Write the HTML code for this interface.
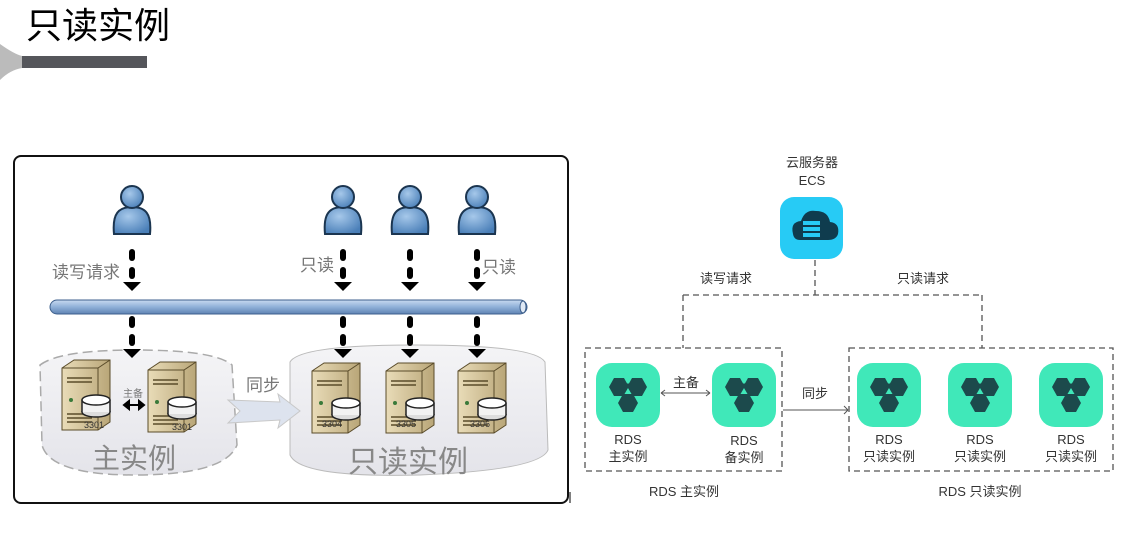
<!DOCTYPE html>
<html><head><meta charset="utf-8"><style>
body{margin:0;background:#fff;width:1138px;height:528px;overflow:hidden}
svg text{font-family:"Liberation Sans","Noto Sans CJK SC",sans-serif}
</style></head><body>
<svg width="1138" height="528" viewBox="0 0 1138 528" xmlns="http://www.w3.org/2000/svg">
<defs>
<linearGradient id="pipe" x1="0" y1="0" x2="0" y2="1"><stop offset="0" stop-color="#c9daf0"/><stop offset="0.5" stop-color="#8fb0d8"/><stop offset="1" stop-color="#5f83b3"/></linearGradient>
<radialGradient id="usr" cx="0.4" cy="0.35" r="0.7"><stop offset="0" stop-color="#a6c8ea"/><stop offset="1" stop-color="#4a7fb8"/></radialGradient>
<linearGradient id="srv" x1="0" y1="0" x2="1" y2="0"><stop offset="0" stop-color="#e9dcb8"/><stop offset="1" stop-color="#b9a678"/></linearGradient>
<linearGradient id="cl" x1="0" y1="0" x2="0" y2="1"><stop offset="0" stop-color="#f4f4f6"/><stop offset="1" stop-color="#e4e4ea"/></linearGradient>
<g id="user">
<path d="M-18,39 C-20,18 -13,12 0,12 C13,12 20,18 18,39 Z" fill="url(#usr)" stroke="#1b3550" stroke-width="2"/>
<circle cx="0" cy="2" r="11" fill="url(#usr)" stroke="#1b3550" stroke-width="2"/>
</g>
<g id="dash">
<rect x="-3" y="0" width="6" height="12" rx="3" fill="#000"/>
<rect x="-3" y="18" width="6" height="12" rx="3" fill="#000"/>
<path d="M-9,33 L9,33 L0,42 Z" fill="#000"/>
</g>
<g id="server">
<path d="M0,8 L12,0 L48,0 L48,62 L36,70 L0,70 Z" fill="url(#srv)" stroke="#5a4c2a" stroke-width="1"/>
<path d="M0,8 L36,8 L48,0" fill="none" stroke="#5a4c2a" stroke-width="1"/>
<line x1="36" y1="8" x2="36" y2="70" stroke="#5a4c2a"/>
<path d="M5,18 L30,18 M5,22 L30,22 M5,54 L30,54 M5,58 L30,58 M5,62 L30,62" stroke="#5a4c2a" stroke-width="1.5"/>
<circle cx="9" cy="40" r="2" fill="#3a7a3a"/>
<ellipse cx="34" cy="52" rx="14" ry="5" fill="#ddd" stroke="#222" stroke-width="1.5"/>
<rect x="20" y="40" width="28" height="12" fill="#f2f2f2"/>
<path d="M20,40 L20,52 M48,40 L48,52" stroke="#222" stroke-width="1.5"/>
<ellipse cx="34" cy="40" rx="14" ry="5" fill="#fff" stroke="#222" stroke-width="1.5"/>
</g>
<g id="rds">
<rect x="0" y="0" width="64" height="64" rx="16" fill="#40e8b9"/>
<g fill="#1c4a4c">
<polygon points="13,24 18,15 28,15 33,24 28,33 18,33"/>
<polygon points="31,24 36,15 46,15 51,24 46,33 36,33"/>
<polygon points="22,40 27,31 37,31 42,40 37,49 27,49"/>
<polygon points="24,30 32,20 40,30 32,38"/>
</g>
<polygon points="32,25 35.5,31 28.5,31" fill="#40e8b9"/>
</g>
</defs>

<!-- title -->
<path d="M0,44 Q14,54 22,56 L22,68 Q10,70 0,80 Z" fill="#bbb"/>
<rect x="22" y="56" width="125" height="12" fill="#55565b"/>
<text x="26" y="38" font-size="36" fill="#000">只读实例</text>

<!-- left diagram -->
<rect x="14" y="156" width="554" height="347" rx="7" fill="#fff" stroke="#111" stroke-width="2"/>
<use href="#user" x="132" y="195"/>
<use href="#user" x="343" y="195"/>
<use href="#user" x="410" y="195"/>
<use href="#user" x="477" y="195"/>
<use href="#dash" x="132" y="249"/>
<use href="#dash" x="343" y="249"/>
<use href="#dash" x="410" y="249"/>
<use href="#dash" x="477" y="249"/>
<text x="52" y="278" font-size="17" fill="#777">读写请求</text>
<text x="300" y="271" font-size="17" fill="#777">只读</text>
<text x="482" y="273" font-size="17" fill="#777">只读</text>
<rect x="50" y="300" width="477" height="14" rx="7" fill="url(#pipe)" stroke="#3d5f8c" stroke-width="1"/>
<ellipse cx="523" cy="307" rx="3" ry="6" fill="#dfe9f5" stroke="#3d5f8c"/>
<path d="M40,365 Q60,350 135,350 Q215,350 232,365 L237,445 Q225,475 135,475 Q50,475 42,445 Z" fill="url(#cl)" stroke="#aaa" stroke-width="1.5" stroke-dasharray="10,5"/>
<path d="M290,362 Q300,345 415,345 Q535,345 545,362 L548,450 Q540,470 420,475 Q300,478 290,455 Z" fill="url(#cl)" stroke="#bbb" stroke-width="1"/>
<use href="#dash" x="132" y="316"/>
<use href="#dash" x="343" y="316"/>
<use href="#dash" x="410" y="316"/>
<use href="#dash" x="477" y="316"/>
<path d="M228,400 L280,402 L278,394 L300,411 L278,428 L280,420 L228,423 L240,411 Z" fill="#dde3ee" stroke="#c8c8c8"/>
<text x="246" y="391" font-size="17" fill="#777">同步</text>
<use href="#server" x="62" y="360"/>
<use href="#server" x="148" y="362"/>
<use href="#server" x="312" y="363"/>
<use href="#server" x="386" y="363"/>
<use href="#server" x="458" y="363"/>
<text x="84" y="428" font-size="9" fill="#333" font-family="Liberation Serif">3301</text>
<text x="172" y="430" font-size="9" fill="#333" font-family="Liberation Serif">3301</text>
<text x="322" y="427" font-size="9" fill="#333" font-family="Liberation Serif">3304</text>
<text x="396" y="427" font-size="9" fill="#333" font-family="Liberation Serif">3305</text>
<text x="470" y="427" font-size="9" fill="#333" font-family="Liberation Serif">3306</text>
<text x="123" y="397" font-size="10" fill="#777">主备</text>
<path d="M124,405 L144,405 M124,405 L129,401 L129,409 Z M144,405 L139,401 L139,409 Z" stroke="#000" stroke-width="2" fill="#000"/>
<text x="92" y="468" font-size="28" fill="#888">主实例</text>
<text x="348" y="472" font-size="30" fill="#888">只读实例</text>
<line x1="570" y1="492" x2="570" y2="503" stroke="#000"/>

<!-- right diagram -->
<text x="812" y="167" font-size="13" fill="#333" text-anchor="middle">云服务器</text>
<text x="812" y="185" font-size="13" fill="#333" text-anchor="middle">ECS</text>
<rect x="780" y="197" width="63" height="62" rx="14" fill="#27cbf5"/>
<path d="M793,234 Q790,222 801,221 Q805,209 816,211 Q828,211 830,222 Q840,223 838,234 Q836,240 828,240 L800,240 Q794,240 793,234 Z" fill="#0f3c4e"/>
<g fill="#27cbf5"><rect x="803" y="221" width="17" height="4"/><rect x="803" y="227" width="17" height="4"/><rect x="803" y="233" width="17" height="4"/></g>
<g fill="none" stroke="#555" stroke-width="1.3" stroke-dasharray="6,4">
<path d="M815,260 L815,295"/>
<path d="M683,295 L982,295"/>
<path d="M683,295 L683,348"/>
<path d="M982,295 L982,348"/>
<rect x="585" y="348" width="197" height="123"/>
<rect x="849" y="348" width="264" height="123"/>
</g>
<text x="726" y="283" font-size="13" fill="#333" text-anchor="middle">读写请求</text>
<text x="923" y="283" font-size="13" fill="#333" text-anchor="middle">只读请求</text>
<use href="#rds" x="596" y="363"/>
<use href="#rds" x="712" y="363"/>
<use href="#rds" x="857" y="363"/>
<use href="#rds" x="948" y="363"/>
<use href="#rds" x="1039" y="363"/>
<path d="M661,393 L710,393 M661,393 L665,390 M661,393 L665,396 M710,393 L706,390 M710,393 L706,396" stroke="#555" fill="none"/>
<text x="686" y="387" font-size="13" fill="#333" text-anchor="middle">主备</text>
<path d="M783,410 L848,410 M848,410 L844,406 M848,410 L844,414" stroke="#555" fill="none"/>
<text x="815" y="398" font-size="13" fill="#333" text-anchor="middle">同步</text>
<g font-size="13" fill="#333" text-anchor="middle">
<text x="628" y="444">RDS</text><text x="628" y="461">主实例</text>
<text x="744" y="445">RDS</text><text x="744" y="462">备实例</text>
<text x="889" y="444">RDS</text><text x="889" y="461">只读实例</text>
<text x="980" y="444">RDS</text><text x="980" y="461">只读实例</text>
<text x="1071" y="444">RDS</text><text x="1071" y="461">只读实例</text>
<text x="684" y="496">RDS 主实例</text>
<text x="980" y="496">RDS 只读实例</text>
</g>
</svg>
</body></html>
